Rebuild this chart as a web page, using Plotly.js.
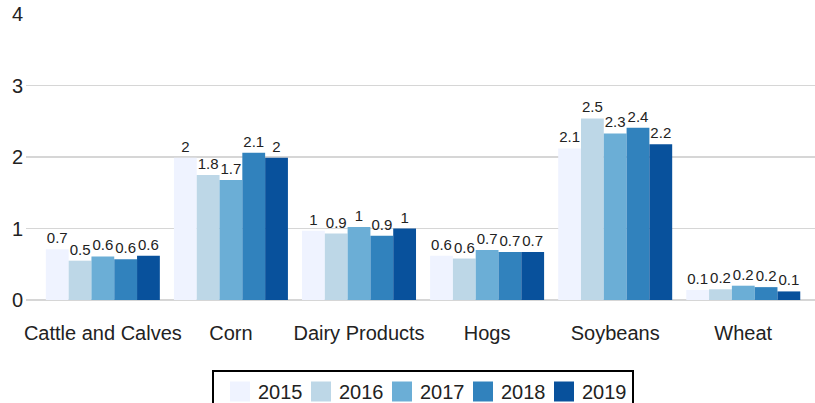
<!DOCTYPE html>
<html>
<head>
<meta charset="utf-8">
<script src="https://cdn.plot.ly/plotly-3.0.1.min.js"></script>
<style>html,body{margin:0;padding:0;background:#fff;}#chart{width:815px;height:403px;}</style>
</head>
<body>
<div id="chart"></div>
<script>
const categories = ["Cattle and Calves", "Corn", "Dairy Products", "Hogs", "Soybeans", "Wheat"];
const years = ["2015", "2016", "2017", "2018", "2019"];
const colors = ["#eff3ff", "#bdd7e7", "#6baed6", "#3182bd", "#08519c"];

const v2015 = [0.71, 1.99, 0.97, 0.62, 2.12, 0.14];
const v2016 = [0.55, 1.75, 0.93, 0.58, 2.54, 0.15];
const v2017 = [0.61, 1.68, 1.02, 0.70, 2.33, 0.20];
const v2018 = [0.57, 2.06, 0.90, 0.67, 2.41, 0.18];
const v2019 = [0.62, 1.99, 1.00, 0.67, 2.18, 0.12];

const t2015 = ["0.7", "2", "1", "0.6", "2.1", "0.1"];
const t2016 = ["0.5", "1.8", "0.9", "0.6", "2.5", "0.2"];
const t2017 = ["0.6", "1.7", "1", "0.7", "2.3", "0.2"];
const t2018 = ["0.6", "2.1", "0.9", "0.7", "2.4", "0.2"];
const t2019 = ["0.6", "2", "1", "0.7", "2.2", "0.1"];

const values = [v2015, v2016, v2017, v2018, v2019];
const texts = [t2015, t2016, t2017, t2018, t2019];

const traces = years.map((yr, i) => ({
  type: "bar",
  name: yr,
  x: categories,
  y: values[i],
  text: texts[i],
  textposition: "outside",
  cliponaxis: false,
  textfont: {family: "Liberation Sans, Arial, sans-serif", size: 15, color: "#222"},
  marker: {color: colors[i], line: {width: 0}},
  hoverinfo: "none"
}));

const layout = {
  width: 815,
  height: 403,
  margin: {l: 26, r: 0, t: 14, b: 103, autoexpand: false},
  paper_bgcolor: "#fff",
  plot_bgcolor: "#fff",
  barmode: "group",
  bargap: 0.11,
  bargroupgap: 0,
  font: {family: "Liberation Sans, Arial, sans-serif", size: 20, color: "#222"},
  xaxis: {
    range: [-0.6, 5.56],
    showgrid: false,
    zeroline: false,
    showline: false,
    ticks: "",
    ticklabelstandoff: 19,
    tickfont: {size: 20, color: "#222"}
  },
  yaxis: {
    range: [0, 4],
    dtick: 1,
    showgrid: true,
    gridcolor: "#d6d6d6",
    gridwidth: 1.5,
    zeroline: true,
    zerolinecolor: "#d6d6d6",
    zerolinewidth: 1.5,
    showline: false,
    ticks: "",
    ticklabelstandoff: 2,
    tickfont: {size: 20, color: "#222"}
  },
  showlegend: true,
  legend: {
    orientation: "h",
    x: 0.5,
    xanchor: "center",
    xref: "paper",
    yref: "container",
    y: 1 - 370 / 403,
    yanchor: "top",
    bordercolor: "#000",
    borderwidth: 2,
    entrywidth: 36,
    entrywidthmode: "pixels",
    font: {size: 20, color: "#222"},
    traceorder: "normal"
  }
};

Plotly.newPlot("chart", traces, layout, {displayModeBar: false, staticPlot: true}).then(() => {
  document.querySelectorAll(".legend .legendpoints path").forEach(p => {
    const b = p.getBBox();
    const cx = b.x + b.width / 2, cy = b.y + b.height / 2;
    const s = 20 / Math.max(b.width, 1);
    const prev = p.getAttribute("transform") || "";
    p.setAttribute("transform", prev + ` translate(${cx + 2},${cy}) scale(${s}) translate(${-cx},${-cy})`);
  });
  document.querySelectorAll(".legend [clip-path]").forEach(el => el.removeAttribute("clip-path"));
  const bg = document.querySelector(".legend rect.bg");
  if (bg) {
    const x = parseFloat(bg.getAttribute("x") || "0");
    const w = parseFloat(bg.getAttribute("width") || "0");
    bg.setAttribute("x", x - 4);
    bg.setAttribute("width", w + 13);
  }
});
</script>
</body>
</html>
